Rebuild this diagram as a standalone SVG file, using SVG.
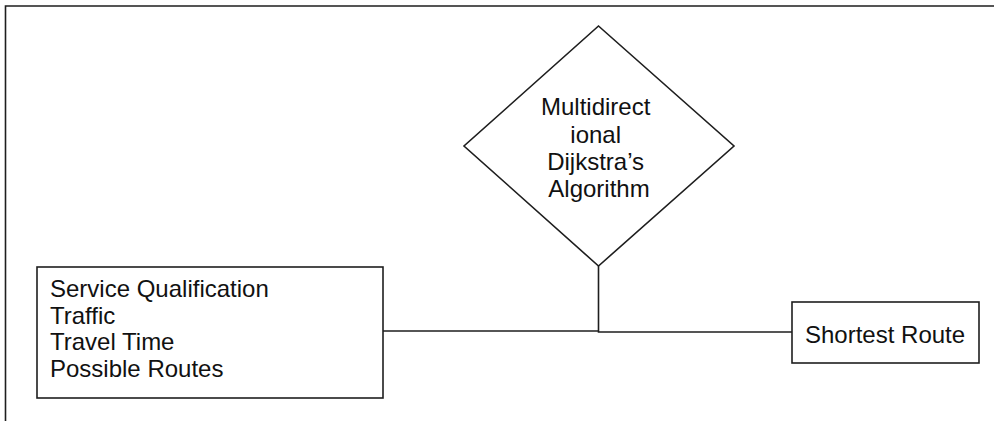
<svg xmlns="http://www.w3.org/2000/svg" width="994" height="421" viewBox="0 0 994 421">
  <style>
    .shape { fill: #ffffff; stroke: #1e1e1e; stroke-width: 1.6; }
    .wire { fill: none; stroke: #1e1e1e; stroke-width: 1.6; }
    .label { font-family: "Liberation Sans", Arial, sans-serif; font-size: 24px; fill: #111111; }
  </style>
  <rect width="994" height="421" fill="#ffffff"/>

  <!-- page frame: top and left rules -->
  <g id="frame" class="wire">
    <path d="M994 6 H5.5 V421"/>
  </g>

  <!-- connectors -->
  <g id="connectors" class="wire">
    <path d="M383 331 H598.5"/>
    <path d="M598.5 266 V332 H792"/>
  </g>

  <g id="algorithm">
    <polygon class="shape" points="598.5,26 734,146 598.5,266 464,146"/>
    <text class="label" text-anchor="middle">
      <tspan x="599" y="115">Multidirect</tspan>
      <tspan x="599" y="143">ional</tspan>
      <tspan x="599" y="170">Dijkstra’s</tspan>
      <tspan x="599" y="197">Algorithm</tspan>
    </text>
  </g>

  <g id="inputs">
    <rect class="shape" x="37" y="267" width="346" height="131"/>
    <text class="label">
      <tspan x="50" y="297">Service Qualification</tspan>
      <tspan x="50" y="323.5">Traffic</tspan>
      <tspan x="50" y="350">Travel Time</tspan>
      <tspan x="50" y="377">Possible Routes</tspan>
    </text>
  </g>

  <g id="result">
    <rect class="shape" x="792" y="302" width="187" height="61"/>
    <text class="label" x="805" y="342.5">Shortest Route</text>
  </g>
</svg>
